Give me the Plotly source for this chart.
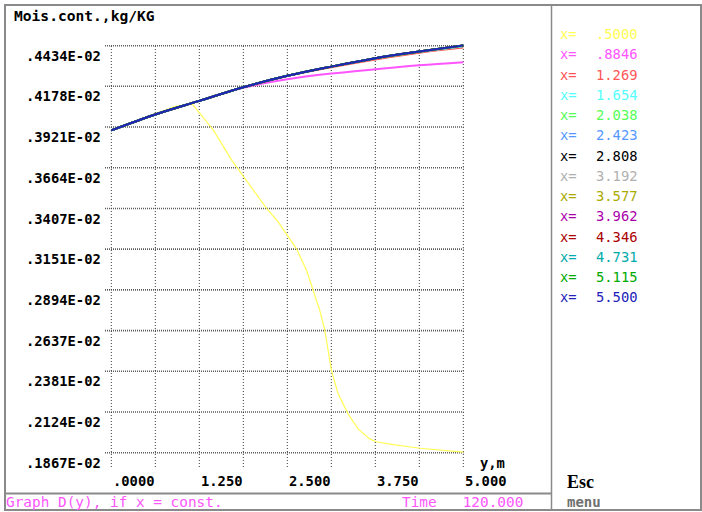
import plotly.graph_objects as go

# ---- data -------------------------------------------------------------
# Positions along y (m) used for the smooth upper curves
y_pos = [0.0, 0.625, 1.25, 1.875, 2.5, 3.125, 3.75, 4.375, 5.0]

# Moisture content profiles D(y) at fixed x, in units of 1E-02 kg/KG
d_x0885 = [0.3900, 0.4000, 0.4086, 0.4168, 0.4222, 0.4258, 0.4285, 0.4310, 0.4329]
d_x1269 = [0.3900, 0.4000, 0.4086, 0.4172, 0.4243, 0.4298, 0.4347, 0.4390, 0.4422]
d_x1654 = [0.3900, 0.4000, 0.4086, 0.4172, 0.4244, 0.4302, 0.4353, 0.4395, 0.4430]
d_x2038 = [0.3900, 0.4000, 0.4086, 0.4172, 0.4244, 0.4302, 0.4354, 0.4396, 0.4433]
d_x2423 = [0.3900, 0.4000, 0.4086, 0.4172, 0.4244, 0.4302, 0.4355, 0.4397, 0.4434]
d_x2808 = [0.3900, 0.4000, 0.4086, 0.4172, 0.4244, 0.4302, 0.4355, 0.4397, 0.4435]
d_x3192 = [0.3900, 0.4000, 0.4086, 0.4172, 0.4244, 0.4302, 0.4355, 0.4397, 0.4435]
d_x3577 = [0.3900, 0.4000, 0.4086, 0.4172, 0.4244, 0.4302, 0.4355, 0.4397, 0.4435]
d_x3962 = [0.3900, 0.4000, 0.4086, 0.4172, 0.4244, 0.4302, 0.4355, 0.4397, 0.4436]
d_x4346 = [0.3900, 0.4000, 0.4086, 0.4172, 0.4244, 0.4302, 0.4355, 0.4397, 0.4436]
d_x4731 = [0.3900, 0.4000, 0.4086, 0.4172, 0.4244, 0.4302, 0.4355, 0.4397, 0.4436]
d_x5115 = [0.3900, 0.4000, 0.4086, 0.4172, 0.4244, 0.4302, 0.4355, 0.4397, 0.4436]
d_x5500 = [0.3900, 0.4000, 0.4086, 0.4172, 0.4244, 0.4302, 0.4355, 0.4397, 0.4436]

# The x = .5000 profile drops sharply, so it is sampled more densely
y_x0500 = [0.0, 0.45, 0.9, 1.146, 1.453, 1.712, 1.877, 2.208, 2.373, 2.49,
           2.632, 2.774, 2.868, 2.962, 3.033, 3.127, 3.222, 3.363, 3.505, 3.67,
           3.764, 3.958, 4.385, 4.668, 5.0]
d_x0500 = [0.3902, 0.3978, 0.4050, 0.4069, 0.3900, 0.3711, 0.3610, 0.3406, 0.3321, 0.3248,
           0.3153, 0.3016, 0.2894, 0.2764, 0.2638, 0.2385, 0.2238, 0.2112, 0.2017, 0.1954,
           0.1936, 0.1921, 0.1895, 0.1883, 0.1870]

x_labels = [".5000", ".8846", "1.269", "1.654", "2.038", "2.423", "2.808",
            "3.192", "3.577", "3.962", "4.346", "4.731", "5.115", "5.500"]

y_tick_vals = [0.1867, 0.2124, 0.2381, 0.2637, 0.2894, 0.3151,
               0.3407, 0.3664, 0.3921, 0.4178, 0.4434]
y_tick_text = [".1867E-02", ".2124E-02", ".2381E-02", ".2637E-02", ".2894E-02", ".3151E-02",
               ".3407E-02", ".3664E-02", ".3921E-02", ".4178E-02", ".4434E-02"]
x_tick_vals = [0.0, 1.25, 2.5, 3.75, 5.0]
x_tick_text = [".0000", "1.250", "2.500", "3.750", "5.000"]
x_grid_vals = [0.0, 0.625, 1.25, 1.875, 2.5, 3.125, 3.75, 4.375, 5.0]

SCALE = 1e-2  # E-02

# ---- styling ----------------------------------------------------------
colors = ["#FFFF55", "#FF55FF", "#FF5555", "#55FFFF", "#55FF55", "#5599FF", "#000000",
          "#B0B0B0", "#AAAA00", "#AA00AA", "#AA0000", "#00AAAA", "#00AA00", "#2222BB"]

W_FIG, H_FIG = 702, 512
PLOT_L, PLOT_R, PLOT_T, PLOT_B = 106, 468, 40, 458

# axis calibration: y = 0 at 111.3 px, 5 m spans 352 px;
# .1867E-02 at 452.7 px, one tick step (.02567) spans 40.7 px
X0_PIX, X_PER = 111.3, 352 / 5.0
Y0_PIX, Y0_VAL, Y_PER = 452.7, 0.1867, 40.7 / 0.02567

x_range = [(PLOT_L - X0_PIX) / X_PER, (PLOT_R - X0_PIX) / X_PER]
y_range = [(Y0_VAL - (PLOT_B - Y0_PIX) / Y_PER) * SCALE,
           (Y0_VAL + (Y0_PIX - PLOT_T) / Y_PER) * SCALE]


def px(x):
    return (x - PLOT_L) / (PLOT_R - PLOT_L)


def py(y):
    return (PLOT_B - y) / (PLOT_B - PLOT_T)


MONO = "DejaVu Sans Mono"

fig = go.Figure()

series = [d_x0500, d_x0885, d_x1269, d_x1654, d_x2038, d_x2423, d_x2808,
          d_x3192, d_x3577, d_x3962, d_x4346, d_x4731, d_x5115, d_x5500]
for i, (lab, vals) in enumerate(zip(x_labels, series)):
    ys = y_x0500 if i == 0 else y_pos
    fig.add_trace(go.Scatter(
        x=ys, y=[v * SCALE for v in vals], mode="lines", name="x= " + lab,
        line=dict(color=colors[i], width=1.2 if i == 0 else 2,
                  shape="linear" if i == 0 else "spline"),
        showlegend=False, hoverinfo="skip"))

shapes = []
# horizontal grid lines
for v in y_tick_vals:
    shapes.append(dict(type="line", xref="paper", yref="y",
                       x0=px(105), x1=px(463.5), y0=v * SCALE, y1=v * SCALE,
                       line=dict(color="#5a5a5a", width=1.6, dash="1px,1px"), layer="below"))
# vertical grid lines
for v in x_grid_vals:
    shapes.append(dict(type="line", xref="x", yref="paper",
                       x0=v, x1=v, y0=py(467), y1=py(45.7),
                       line=dict(color="#3a3a3a", width=1, dash="1px,2px"), layer="below"))
# frame
frame = dict(color="#8a8a8a", width=2)
shapes += [
    dict(type="rect", xref="paper", yref="paper", x0=px(5), x1=px(701), y0=py(510), y1=py(5),
         line=frame),
    dict(type="line", xref="paper", yref="paper", x0=px(551.5), x1=px(551.5), y0=py(510), y1=py(5),
         line=dict(color="#8a8a8a", width=1.5)),
    dict(type="line", xref="paper", yref="paper", x0=px(5), x1=px(551.5), y0=py(493.5), y1=py(493.5),
         line=frame),
]

ann = []


def text(x, y, s, color="#000000", size=14, bold=False, anchor="left", family=MONO):
    ann.append(dict(x=px(x), y=py(y), xref="paper", yref="paper", text=s, showarrow=False,
                    xanchor=anchor, yanchor="middle", borderpad=0,
                    font=dict(family=family, size=size, color=color,
                              weight="bold" if bold else "normal")))


text(13, 16, "Mois.cont.,kg/KG", size=14.6, bold=True)
for v, s in zip(y_tick_vals, y_tick_text):
    ann.append(dict(x=px(101.5), y=v * SCALE, xref="paper", yref="y", text=s, showarrow=False,
                    xanchor="right", yanchor="middle", yshift=-10, borderpad=0,
                    font=dict(family=MONO, size=13.8, color="#000000", weight="bold")))
for v, s in zip(x_tick_vals, x_tick_text):
    ann.append(dict(x=v, y=py(481), xref="x", yref="paper", text=s, showarrow=False,
                    xanchor="left", yanchor="middle", xshift=1, borderpad=0,
                    font=dict(family=MONO, size=13.8, color="#000000", weight="bold")))
text(479, 463, "y,m", size=13.8, bold=True)

for i, lab in enumerate(x_labels):
    yy = 34 + i * 20.25
    text(559, yy, "x=", color=colors[i], size=13.8)
    text(639, yy, lab, color=colors[i], size=13.8, anchor="right")

text(5, 502.5, "Graph D(y), if x = const.", color="#FF55FF", size=14.4)
text(401, 502.5, "Time   120.000", color="#FF55FF", size=14.4)
text(566, 482, "Esc", size=18, bold=True, family="Liberation Serif")
text(566, 502.5, "menu", color="#707070", size=14, bold=True)

fig.update_layout(
    width=W_FIG, height=H_FIG, autosize=False,
    margin=dict(l=PLOT_L, r=W_FIG - PLOT_R, t=PLOT_T, b=H_FIG - PLOT_B, pad=0),
    paper_bgcolor="white", plot_bgcolor="white",
    xaxis=dict(range=x_range, visible=False, showgrid=False, zeroline=False, fixedrange=True),
    yaxis=dict(range=y_range, visible=False, showgrid=False, zeroline=False, fixedrange=True),
    shapes=shapes, annotations=ann,
)

fig.write_html("out.html", config={"displayModeBar": False})
